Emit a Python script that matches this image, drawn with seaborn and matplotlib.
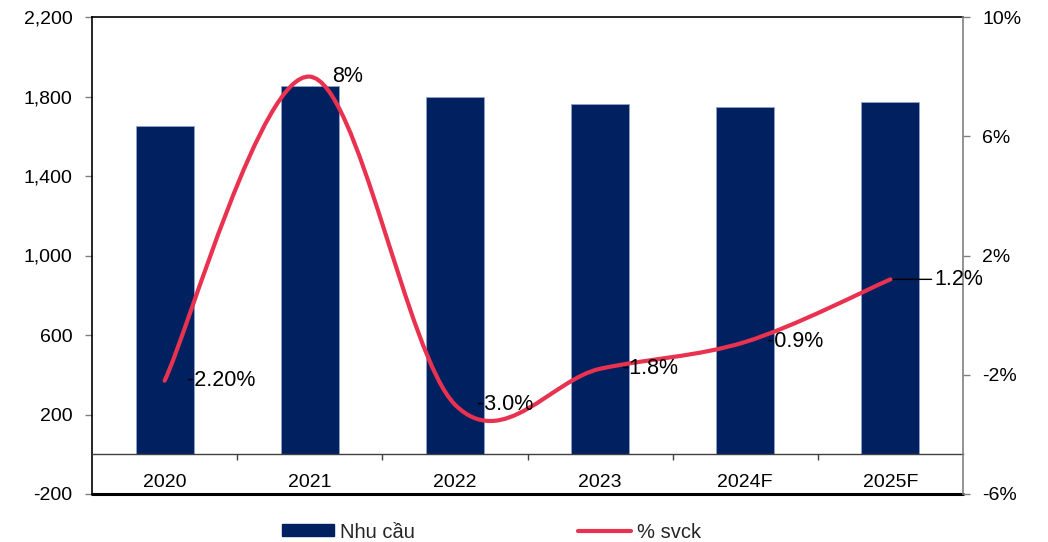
import numpy as np
import pandas as pd
import matplotlib
matplotlib.use("Agg")
import matplotlib.pyplot as plt
import matplotlib.ticker as mticker
from matplotlib.path import Path
from matplotlib.patches import PathPatch, Patch
from matplotlib.lines import Line2D
import seaborn as sns

years = ["2020", "2021", "2022", "2023", "2024F", "2025F"]
demand = [1650, 1852, 1796, 1761, 1746, 1771]
growth = [-2.2, 8.0, -3.0, -1.8, -0.9, 1.2]
growth_labels = ["-2.20%", "8%", "-3.0%", "-1.8%", "-0.9%", "1.2%"]
left_ticks = [-200, 200, 600, 1000, 1400, 1800, 2200]
right_ticks = [-6, -2, 2, 6, 10]

BAR = "#002060"
LINE = "#E8324F"

sns.set_theme(style="white")
plt.rcParams["font.family"] = ["Liberation Sans", "DejaVu Sans"]
plt.rcParams["axes.unicode_minus"] = False

fig = plt.figure(figsize=(10.48, 5.42), dpi=100)
ax = fig.add_axes([92 / 1048, 48 / 542, 871 / 1048, 477 / 542])

df = pd.DataFrame({"year": years, "demand": demand})
sns.barplot(data=df, x="year", y="demand", order=years, color=BAR, width=0.4,
            edgecolor="#8FA3CC", linewidth=0.6, saturation=1, ax=ax)
ax.set_xlim(-0.5, len(years) - 0.5)
ax.set_ylim(-200, 2200)
ax.set_yticks(left_ticks)
ax.yaxis.set_major_formatter(mticker.StrMethodFormatter("{x:,.0f}"))
ax.set_xlabel("")
ax.set_ylabel("")

# x axis on zero line, ticks at category boundaries
ax.spines["bottom"].set_position(("data", 0))
ax.spines["bottom"].set_color("#404040")
ax.spines["bottom"].set_linewidth(1.0)
ax.set_xticks(np.arange(0.5, len(years) - 0.5, 1.0))
ax.set_xticklabels([])
ax.set_xticks(np.arange(len(years)), minor=True)
ax.set_xticklabels(years, minor=True)
ax.tick_params(axis="x", which="major", direction="out", length=4, width=1, color="#404040", bottom=True)
ax.tick_params(axis="x", which="minor", length=0, pad=14, labelsize=14, labelcolor="black")
ax.axhline(-200, color="black", lw=2.2, clip_on=False, zorder=5)

ax.tick_params(axis="y", direction="out", length=5, width=1, color="#808080", left=True,
               pad=9, labelsize=14, labelcolor="black")
for s in ["left", "top"]:
    ax.spines[s].set_color("black")
    ax.spines[s].set_linewidth(1.2)
ax.spines["right"].set_visible(False)

ax2 = ax.twinx()
ax2.set_ylim(-6, 10)
ax2.set_yticks(right_ticks)
ax2.set_yticklabels([f"{v}%" for v in right_ticks])
ax2.tick_params(axis="y", direction="out", length=5, width=1, color="#808080", right=True,
                pad=9, labelsize=14, labelcolor="black")
for s in ["left", "top", "bottom"]:
    ax2.spines[s].set_visible(False)
ax2.spines["right"].set_color("#808080")
ax2.spines["right"].set_linewidth(1.2)

# smoothed line (Excel-style Bezier through the data points)
xs = np.arange(len(growth), dtype=float)
ys = np.array(growth, dtype=float)
P = np.column_stack([xs, ys])
verts = [tuple(P[0])]
codes = [Path.MOVETO]
n = len(P)
for i in range(n - 1):
    p_prev = P[i - 1] if i > 0 else P[i]
    p_next2 = P[i + 2] if i + 2 < n else P[i + 1]
    c1 = P[i] + (P[i + 1] - p_prev) / 6.0
    c2 = P[i + 1] - (p_next2 - P[i]) / 6.0
    verts += [tuple(c1), tuple(c2), tuple(P[i + 1])]
    codes += [Path.CURVE4] * 3
ax2.add_patch(PathPatch(Path(verts, codes), facecolor="none", edgecolor=LINE, lw=3,
                        capstyle="round", zorder=3))

for i, (x, y, lab) in enumerate(zip(xs, ys, growth_labels)):
    if i == len(xs) - 1:
        ax2.annotate(lab, xy=(x, y), xytext=(32, 0), textcoords="offset points",
                     ha="left", va="center", fontsize=15.5, color="black",
                     arrowprops=dict(arrowstyle="-", color="black", lw=1,
                                     shrinkA=0, shrinkB=2))
    else:
        ax2.annotate(lab, xy=(x, y), xytext=(16, 0), textcoords="offset points",
                     ha="left", va="center", fontsize=15.5, color="black")

handles = [Patch(facecolor=BAR, edgecolor=BAR),
           Line2D([0], [0], color=LINE, lw=3)]
fig.legend(handles, ["Nhu cầu", "% svck"], loc="center", bbox_to_anchor=(0.469, 10 / 542),
           ncol=2, frameon=False, fontsize=14.5, handlelength=2.6, handleheight=0.55,
           columnspacing=8.1, handletextpad=0.3)

fig.savefig("out.png", dpi=100)
